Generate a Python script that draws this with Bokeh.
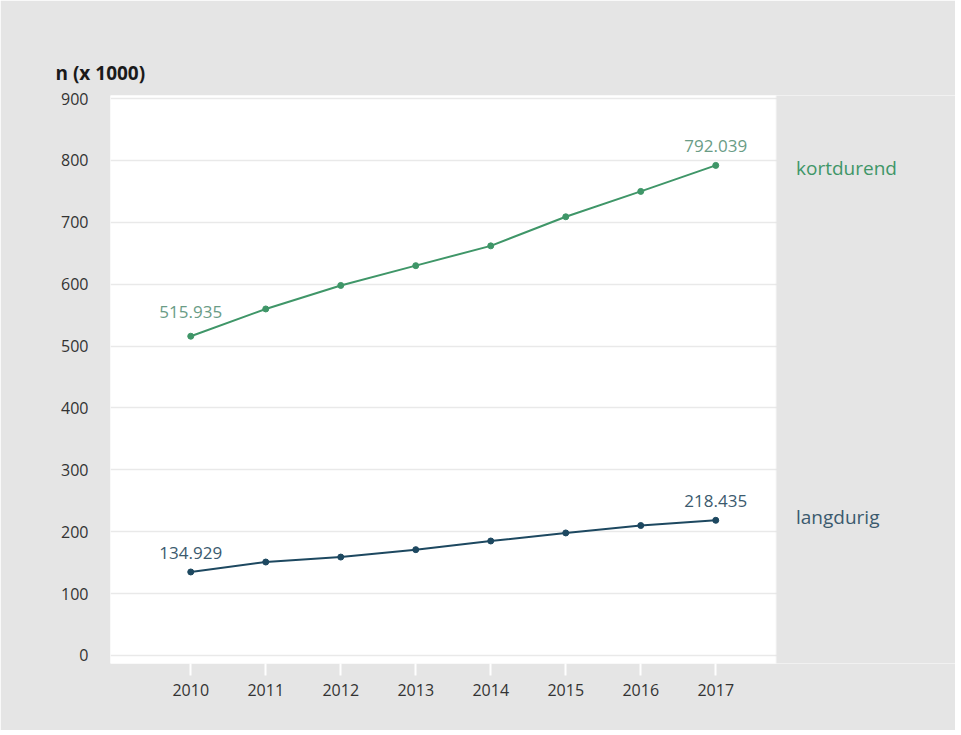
from bokeh.plotting import figure
from bokeh.models import Range1d, FixedTicker, Label, ColumnDataSource, BoxAnnotation
from bokeh.embed import file_html
from bokeh.resources import INLINE

years = [2010, 2011, 2012, 2013, 2014, 2015, 2016, 2017]
kortdurend = [515.935, 560, 598, 630, 662, 709, 750, 792.039]
langdurig = [134.929, 151, 159, 171, 185, 198, 210, 218.435]
y_ticks = [0, 100, 200, 300, 400, 500, 600, 700, 800, 900]
series_names = ["kortdurend", "langdurig"]
axis_title = "n (x 1000)"

GREEN = "#3f9668"
GREEN_TXT = "#6a9c86"
BLUE = "#1d4860"
BLUE_TXT = "#3b5a6e"
GRAY = "#e5e5e5"
FONT = "Open Sans"

W, H = 955, 730
X_PANEL_END = 2017.81   # right edge of the white plot panel
p = figure(width=W, height=H, output_backend="svg", toolbar_location=None,
           x_range=Range1d(2008.93, 2008.93 + (W - 110) / 75.0), y_range=Range1d(-13, 905),
           min_border_left=110, min_border_right=0, min_border_top=95,
           min_border_bottom=H - 663)
p.border_fill_color = GRAY
p.background_fill_color = "white"
p.outline_line_color = None

p.title.text = axis_title
p.title.align = "left"
p.title.offset = -55
p.title.standoff = 19
p.title.text_font = FONT
p.title.text_font_size = "19px"
p.title.text_font_style = "bold"
p.title.text_color = "#1a1a1a"

p.xgrid.grid_line_color = None
p.ygrid.grid_line_color = "#e9e9e9"
p.ygrid.grid_line_width = 1.5
p.ygrid.ticker = FixedTicker(ticks=y_ticks)

p.xaxis.ticker = FixedTicker(ticks=years)
p.xaxis.axis_line_color = None
p.xaxis.major_tick_line_color = "white"
p.xaxis.major_tick_line_width = 2
p.xaxis.major_tick_out = 12
p.xaxis.major_tick_in = 0
p.xaxis.minor_tick_line_color = None
p.xaxis.major_label_standoff = 8
p.xaxis.major_label_text_font = FONT
p.xaxis.major_label_text_font_size = "16px"
p.xaxis.major_label_text_color = "#333333"

p.yaxis.ticker = FixedTicker(ticks=y_ticks)
p.yaxis.axis_line_color = None
p.yaxis.major_tick_line_color = None
p.yaxis.minor_tick_line_color = None
p.yaxis.major_label_standoff = 16
p.yaxis.major_label_text_font = FONT
p.yaxis.major_label_text_font_size = "16px"
p.yaxis.major_label_text_color = "#333333"

# gray area to the right of the white panel
p.add_layout(BoxAnnotation(left=X_PANEL_END, fill_color=GRAY, fill_alpha=1.0, line_color=GRAY,
                           line_width=2))

src = ColumnDataSource(dict(x=years, k=kortdurend, l=langdurig))
p.line("x", "k", source=src, line_color=GREEN, line_width=2)
p.scatter("x", "k", source=src, size=6, fill_color=GREEN, line_color=GREEN)
p.line("x", "l", source=src, line_color=BLUE, line_width=2)
p.scatter("x", "l", source=src, size=6, fill_color=BLUE, line_color=BLUE)

def fmt(v):
    return f"{v:.3f}"

for xv, yv, off in [(years[0], kortdurend[0], 24), (years[-1], kortdurend[-1], 19)]:
    p.add_layout(Label(x=xv, y=yv, text=fmt(yv), text_align="center", text_baseline="middle",
                       y_offset=off, text_font=FONT, text_font_size="17px", text_color=GREEN_TXT))
for xv, yv, off in [(years[0], langdurig[0], 19), (years[-1], langdurig[-1], 19)]:
    p.add_layout(Label(x=xv, y=yv, text=fmt(yv), text_align="center", text_baseline="middle",
                       y_offset=off, text_font=FONT, text_font_size="17px", text_color=BLUE_TXT))

p.add_layout(Label(x=2018.07, y=792.039, text=series_names[0], text_align="left", text_baseline="middle",
                   y_offset=-3, text_font=FONT, text_font_size="19px", text_color=GREEN))
p.add_layout(Label(x=2018.07, y=218.435, text=series_names[1], text_align="left", text_baseline="middle",
                   y_offset=3, text_font=FONT, text_font_size="19px", text_color=BLUE_TXT))

open("out.html", "w").write(file_html(p, INLINE))
